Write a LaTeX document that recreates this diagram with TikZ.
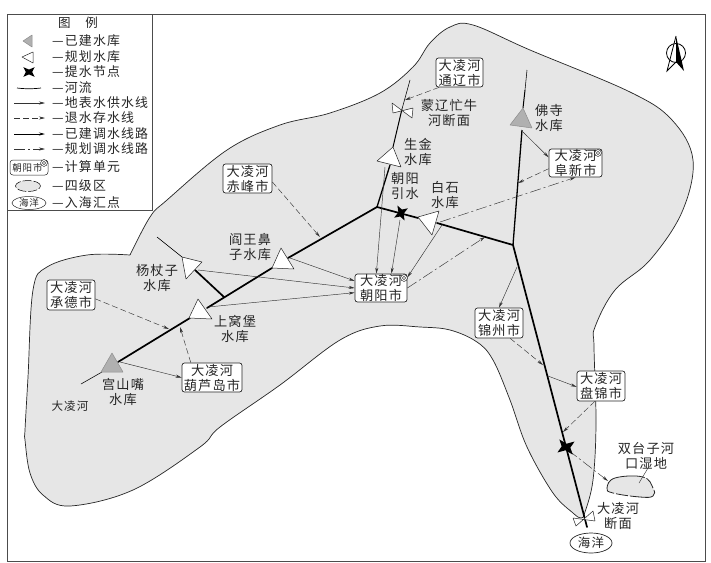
\documentclass[tikz,border=0pt]{standalone}
\usepackage{fontspec}
\setmainfont[LetterSpace=9]{Noto Sans CJK SC}
\usetikzlibrary{arrows.meta,shapes.geometric}
\definecolor{regiongray}{HTML}{E6E6E6}
\definecolor{resgray}{HTML}{B0B0B0}
\definecolor{inkgray}{HTML}{333333}
\tikzset{
  txt/.style={font=\fontsize{13.2}{15}\selectfont,align=center,inner sep=0pt,text=black!85},
  leg/.style={font=\fontsize{12.9}{15}\selectfont,anchor=west,inner sep=0pt,text=black!85},
  cbox/.style={draw=black!85,line width=.7pt,rounded corners=2.5pt,fill=white,inner sep=0pt,
    minimum height=29pt,font=\fontsize{13.2}{15}\selectfont,align=center,text=black!85},
  tip/.style={-{Stealth[length=6pt,width=3pt]}},
  supply/.style={tip,draw=inkgray,line width=.45pt},
  retreat/.style={tip,draw=inkgray,line width=.45pt,dash pattern=on 6pt off 3pt},
  built/.style={tip,draw=black,line width=.8pt},
  planned/.style={tip,draw=inkgray,line width=.45pt,dash pattern=on 11pt off 3pt on 2pt off 3pt},
  thickriver/.style={line width=1.7pt,line cap=round},
  midriver/.style={line width=1pt},
  thinriver/.style={line width=.55pt},
  whiteres/.style={draw=black!85,fill=white,line width=.5pt,line join=round},
  greyres/.style={draw=resgray!80!black,fill=resgray,line width=.5pt,line join=round},
  tie/.style={draw=black!85,fill=white,line width=.5pt,line join=round},
}
\newcommand{\pumpstar}[4]{\fill[black,shift={(#1,#2)},rotate=#3,scale=#4]
  (-7,-6)--(0,-3)--(7,-6)--(4,0)--(7,6)--(0,3)--(-7,6)--(-4,0)--cycle;}
\newcommand{\bullseye}[2]{\draw[line width=.4pt,fill=white] (#1,#2) circle[radius=3.4pt];
  \draw[line width=.4pt] (#1,#2) circle[radius=1.7pt];}
\begin{document}
\begin{tikzpicture}[x=1pt,y=-1pt]
\useasboundingbox (0,0) rectangle (711,562);
\fill[white] (0,0) rectangle (711,562);
% frame
\draw[line width=.8pt,draw=black!70] (7.5,14) rectangle (705,561);
% basin
\draw[fill=regiongray,line width=.7pt,draw=black!85] plot[smooth,tension=.6] coordinates {
 (130,255) (150,217) (167,200) (227,150) (280,125) (330,113) (380,93) (413,67) (430,43) (450,27)
 (473,25) (530,50) (630,92) (672,120) (693,160) (682,212) (650,260) (615,290) (595,327) (594,347)
 (596,423) (593,480) (585,512) (581,518) (573,513) (553,493) (527,447) (510,400) (493,360) (477,342)
 (450,330) (420,327) (380,326) (340,340) (280,385) (220,427) (200,447) (133,490) (70,506) (43,495)
 (30,473) (25,440) (25,430) (28,377) (33,290) (47,267) (87,255) (130,255)};
% rivers
\draw[thinriver] (81,384) -- (102,372);
\draw[thickriver] (118,362) -- (190,318);
\draw[thickriver] (207,308) -- (272,268);
\draw[thickriver] (288,258) -- (377,207);
\draw[thickriver] (377,207) -- (418,218);
\draw[thickriver] (437,223) -- (513,245) -- (587,527);
\draw[midriver,line width=1.3pt] (377,207) -- (390,165);
\draw[midriver] (393,147) -- (402,109);
\draw[thinriver] (402,109) -- (410,80);
\draw[line width=1.3pt] (513,245) -- (522,130);
\draw[midriver] (523,108) -- (525,90);
\draw[thinriver] (525,90) -- (527,70);
\draw[thinriver] (157,237) -- (182,257);
\draw[thickriver] (195,270) -- (224,297);
% boxes
\node[cbox,minimum width=47pt] (tongliao) at (459.5,72.5) {大凌河\\通辽市};
\node[cbox,minimum width=53pt,minimum height=28pt] (fuxin) at (575.5,163) {大凌河\\阜新市};
\node[cbox,minimum width=52pt,minimum height=28pt] (chaoyang) at (381,288) {大凌河\\朝阳市};
\node[cbox,minimum width=49pt] (chifeng) at (247.5,178.5) {大凌河\\赤峰市};
\node[cbox,minimum width=48pt,minimum height=30pt] (chengde) at (71,295) {大凌河\\承德市};
\node[cbox,minimum width=60pt] (huludao) at (212,377.5) {大凌河\\葫芦岛市};
\node[cbox,minimum width=48pt,minimum height=30pt] (jinzhou) at (499,323) {大凌河\\锦州市};
\node[cbox,minimum width=48pt,minimum height=30pt] (panjin) at (601,386) {大凌河\\盘锦市};
\node[draw=black!85,line width=.7pt,fill=white,ellipse,inner sep=0pt,minimum width=42pt,minimum height=20pt,
  font=\fontsize{12.5}{13}\selectfont,text=black!85] (haiyang) at (591,543) {海洋};
\bullseye{598}{153}
\bullseye{404}{278}
% connector ends
\coordinate (rTong) at (405,100);
\coordinate (fosiOut) at (523,132);
\coordinate (rFux) at (518,183);
\coordinate (baiOutA) at (440,222);
\coordinate (baiOutB) at (442,225);
\coordinate (shengOut) at (385,167);
\coordinate (pumpOut) at (400,220);
\coordinate (rCy) at (485,237);
\coordinate (rJin) at (517,267);
\coordinate (rJinIn) at (543,365);
\coordinate (rPan) at (548,376);
\coordinate (rPanIn) at (563,432);
\coordinate (pumpTwo) at (568,450);
\coordinate (wetIn) at (608,481);
\coordinate (rChi) at (320,237);
\coordinate (rChe) at (169,329);
\coordinate (rHul) at (180,327);
\coordinate (gongOut) at (120,362);
\coordinate (yanOut) at (290,258);
\coordinate (yangOut) at (198,270);
\coordinate (shangOut) at (208,307);
% connectors
\draw[retreat] (tongliao.216) -- (rTong);
\draw[supply] (fosiOut) -- (fuxin.168);
\draw[retreat] (fuxin.192) -- (rFux);
\draw[planned] (baiOutA) -- (fuxin.270);
\draw[supply] (shengOut) -- (chaoyang.108);
\draw[supply] (pumpOut) -- (chaoyang.54);
\draw[supply] (baiOutB) -- (chaoyang.22);
\draw[planned] (chaoyang.0) -- (rCy);
\draw[supply] (rJin) -- (jinzhou.90);
\draw[retreat] (jinzhou.-54) -- (rJinIn);
\draw[supply] (rPan) -- (panjin.182);
\draw[retreat] (panjin.248) -- (rPanIn);
\draw[planned] (pumpTwo) -- (wetIn);
\draw[retreat] (chifeng.-8) -- (rChi);
\draw[retreat] (chengde.-9) -- (rChe);
\draw[retreat] (huludao.145) -- (rHul);
\draw[supply] (gongOut) -- (huludao.180);
\draw[supply] (yanOut) -- (chaoyang.165);
\draw[supply] (yangOut) -- (chaoyang.180);
\draw[supply] (shangOut) -- (chaoyang.190);
% reservoirs
\path[greyres] (112,353) -- (101,372) -- (123,372) -- cycle;
\path[whiteres] (198,299) -- (189,318) -- (212,319) -- cycle;
\path[whiteres] (281,248) -- (272,268) -- (294,269) -- cycle;
\path[whiteres] (182,257) -- (202,262) -- (186,279) -- cycle;
\path[whiteres] (393,147) -- (377,161) -- (401,167) -- cycle;
\path[whiteres] (418,217) -- (439,211) -- (432,235) -- cycle;
\path[greyres] (523,108) -- (510,125) -- (532,128) -- cycle;
% section bow ties
\path[tie] (392,103) -- (412,118) -- (413,108) -- (393,113) -- cycle;
\path[tie] (573,518) -- (595,521) -- (593,511) -- (576,526) -- cycle;
% pumps
\pumpstar{401}{213}{75}{.9}
\pumpstar{566}{447}{-8}{1.1}
% wetland
\draw[fill=regiongray,line width=.8pt,draw=black!85,dash pattern=on 30pt off 2pt on 12pt off 2pt] plot[smooth cycle,tension=.7] coordinates {
 (607,488) (615,478) (643,477) (653,488) (653,496) (640,497) (613,493)};
\coordinate (wetTop) at (648,468);
\coordinate (wetMid) at (639,483);
\draw[line width=.4pt,draw=inkgray] (wetTop) -- (wetMid);
% labels
\node[txt] (lgong) at (123,392) {宫山嘴\\水库};
\node[txt] (lshang) at (235,329) {上窝堡\\水库};
\node[txt] (lyang) at (157,278) {杨杖子\\水库};
\node[txt] (lyan) at (250,247) {阎王鼻\\子水库};
\node[txt] (lsheng) at (418,152) {生金\\水库};
\node[txt] (lchao) at (405,186) {朝阳\\引水};
\node[txt] (lbai) at (445,195) {白石\\水库};
\node[txt] (lmeng) at (449,113) {蒙辽忙牛\\河断面};
\node[txt] (lfo) at (549,118) {佛寺\\水库};
\node[txt] (lshuang) at (646,456) {双台子河\\口湿地};
\node[txt] (lduan) at (618,516) {大凌河\\断面};
\node[txt,font=\fontsize{11.5}{13}\selectfont] (lriver) at (70,406) {大凌河};
% compass
\draw[line width=.8pt] (676,53) circle[radius=9.5pt];
\draw[line width=.8pt,line join=miter] (676,36) -- (667,71) -- (676,62);
\fill[black] (676,36) -- (684,71) -- (676,62) -- cycle;
% legend
\draw[line width=.6pt,draw=black!70,fill=white] (7.5,14) rectangle (152,210);
\node[txt,font=\fontsize{12.5}{14}\selectfont] (ltitle) at (78,23) {图\hspace{1.2em}例};
\path[greyres] (23,41) -- (32,35) -- (32,47) -- cycle;
\path[whiteres] (22,57) -- (33,52) -- (33,63) -- cycle;
\pumpstar{29}{72}{0}{.8}
\coordinate (lrA) at (17,88); \coordinate (lrB) at (41,88);
\draw[line width=.7pt] (lrA) .. controls (25,89) and (33,89) .. (lrB);
\foreach \nm/\yy/\sty in {a/103/supply,b/118/retreat,c/134/built,d/149/planned}{
  \coordinate (lg\nm A) at (14,\yy);
  \coordinate (lg\nm B) at (45,\yy);
  \draw[\sty] (lg\nm A) -- (lg\nm B);
}
\node[cbox,minimum width=38pt,minimum height=15pt,font=\fontsize{9.5}{11}\selectfont,rounded corners=3pt,line width=.5pt] (lgbox) at (29,167.5) {朝阳市\hspace{3pt}};
\bullseye{44}{163}
\draw[fill=regiongray,line width=.5pt,dash pattern=on 9pt off 2pt] (28,186) ellipse[x radius=12.5pt,y radius=5.5pt];
\node[draw=black!85,line width=.5pt,fill=white,ellipse,inner sep=0pt,minimum width=34pt,minimum height=13pt,
  font=\fontsize{9.5}{11}\selectfont,text=black!85] (lghai) at (29,203) {海洋};
\node[leg] (l1) at (52,41) {—已建水库};
\node[leg] (l2) at (52,57) {—规划水库};
\node[leg] (l3) at (52,72) {—提水节点};
\node[leg] (l4) at (52,88) {—河流};
\node[leg] (l5) at (52,103) {—地表水供水线};
\node[leg] (l6) at (52,118) {—退水存水线};
\node[leg] (l7) at (52,134) {—已建调水线路};
\node[leg] (l8) at (52,149) {—规划调水线路};
\node[leg] (l9) at (52,167) {—计算单元};
\node[leg] (l10) at (52,186) {—四级区};
\node[leg] (l11) at (52,203) {—入海汇点};
\end{tikzpicture}
\end{document}
